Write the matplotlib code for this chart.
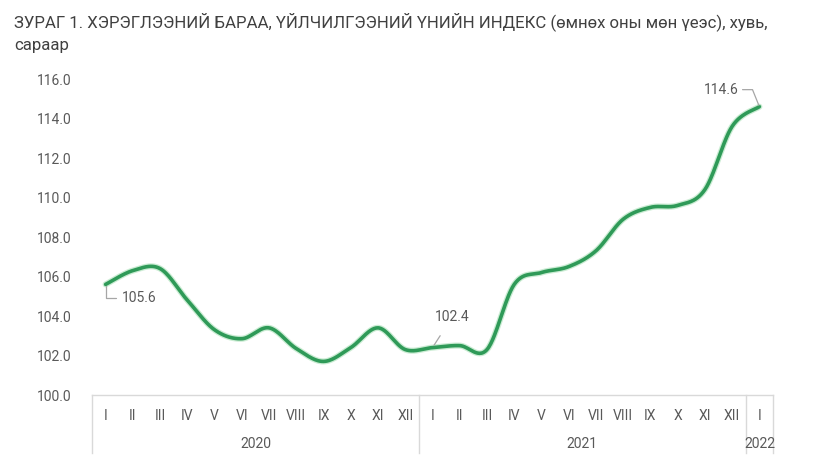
import numpy as np
import matplotlib
matplotlib.use("Agg")
import matplotlib.pyplot as plt
from matplotlib import font_manager

months = ["I", "II", "III", "IV", "V", "VI", "VII", "VIII", "IX", "X", "XI", "XII"]
years = ["2020", "2021", "2022"]
month_labels = months + months + ["I"]
values = [105.6, 106.3, 106.4, 104.8, 103.3, 102.85, 103.4, 102.35, 101.7, 102.4, 103.4, 102.3,
          102.4, 102.5, 102.3, 105.6, 106.2, 106.5, 107.3, 108.9, 109.5, 109.6, 110.4, 113.6,
          114.6]
year_counts = [12, 12, 1]
labelled = {0: "105.6", 12: "102.4", 24: "114.6"}
yticks = [100, 102, 104, 106, 108, 110, 112, 114, 116]
title = "ЗУРАГ 1. ХЭРЭГЛЭЭНИЙ БАРАА, ҮЙЛЧИЛГЭЭНИЙ ҮНИЙН ИНДЕКС (өмнөх оны мөн үеэс), хувь,\nсараар"

names = {f.name for f in font_manager.fontManager.ttflist}
base_font = "Roboto" if "Roboto" in names else "DejaVu Sans"
title_font = "Liberation Sans Narrow" if "Liberation Sans Narrow" in names else base_font
plt.rcParams["font.family"] = [base_font, "DejaVu Sans"]

GREEN = "#2f9a58"
GRAY_TXT = "#595959"
AXC = "#d9d9d9"


def smooth(x, y, n=30):
    x = np.asarray(x, float)
    y = np.asarray(y, float)
    P = np.column_stack([x, y])
    Pe = np.vstack([P[0], P, P[-1]])
    out = []
    t = np.linspace(0, 1, n)
    for i in range(len(P) - 1):
        p0, p1, p2, p3 = Pe[i], Pe[i + 1], Pe[i + 2], Pe[i + 3]
        c1 = p1 + (p2 - p0) / 6.0
        c2 = p2 - (p3 - p1) / 6.0
        seg = ((1 - t) ** 3)[:, None] * p1 + (3 * (1 - t) ** 2 * t)[:, None] * c1 \
            + (3 * (1 - t) * t ** 2)[:, None] * c2 + (t ** 3)[:, None] * p2
        out.append(seg if i == 0 else seg[1:])
    S = np.vstack(out)
    return S[:, 0], S[:, 1]


fig = plt.figure(figsize=(8.25, 4.73), dpi=100)
ax = fig.add_axes([92 / 825, 1 - 395 / 473, (773 - 92) / 825, (395 - 79) / 473])

xs = np.arange(len(values))
sx, sy = smooth(xs, values)
ax.plot(sx, sy, color="#a8e0b6", lw=4.4, solid_capstyle="round", alpha=0.6, zorder=2)
ax.plot(sx, sy, color=GREEN, lw=2.6, solid_capstyle="round", zorder=3)

ax.set_xlim(-0.5, len(values) - 0.5)
ax.set_ylim(yticks[0], yticks[-1])
ax.set_yticks(yticks)
ax.set_yticklabels([f"{v:.1f}" for v in yticks], fontsize=10, color=GRAY_TXT)
ax.tick_params(axis="y", length=0, pad=15)
ax.set_xticks(xs)
ax.set_xticklabels(month_labels, fontsize=10, color=GRAY_TXT)
ax.tick_params(axis="x", length=0, pad=10)
for s in ["left", "right", "top"]:
    ax.spines[s].set_visible(False)
ax.spines["bottom"].set_color(AXC)
ax.spines["bottom"].set_linewidth(1.0)

# year groups with separators
trans = ax.get_xaxis_transform()
start = 0
bounds = [-0.5]
for yr, c in zip(years, year_counts):
    end = start + c
    center = (start + end - 1) / 2.0
    ax.text(center, -0.155, yr, transform=trans, ha="center", va="center",
            fontsize=10, color=GRAY_TXT)
    bounds.append(end - 0.5)
    start = end
for b in bounds:
    ax.plot([b, b], [0, -0.185], transform=trans, color=AXC, lw=1.0, clip_on=False)

# data labels
lab_style = dict(fontsize=10, color=GRAY_TXT)
i = 0
ax.annotate(labelled[i], xy=(xs[i], values[i]), xytext=(16, -14), textcoords="offset pixels",
            ha="left", va="center", **lab_style,
            arrowprops=dict(arrowstyle="-", color="#a6a6a6", lw=0.9, shrinkA=2, shrinkB=1,
                            connectionstyle="angle,angleA=0,angleB=90,rad=0"))
i = 12
ax.annotate(labelled[i], xy=(xs[i], values[i]), xytext=(20, 31), textcoords="offset pixels",
            ha="center", va="center", **lab_style,
            arrowprops=dict(arrowstyle="-", color="#a6a6a6", lw=0.9, shrinkA=8, shrinkB=2))
i = 24
ax.annotate(labelled[i], xy=(xs[i], values[i]), xytext=(-21, 17), textcoords="offset pixels",
            ha="right", va="center", **lab_style,
            arrowprops=dict(arrowstyle="-", color="#a6a6a6", lw=0.9, shrinkA=1, shrinkB=1,
                            connectionstyle="angle,angleA=0,angleB=112,rad=0"))

fig.text(14 / 825, 1 - 12 / 473, title, ha="left", va="top", fontsize=12.1,
         color="#404040", family=[title_font, "DejaVu Sans"], linespacing=1.6)

fig.savefig("out.png", dpi=100, facecolor="white")
